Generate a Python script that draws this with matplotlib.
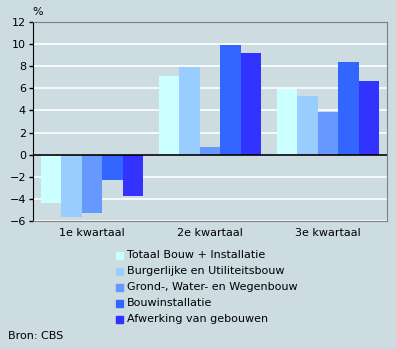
import numpy as np
import matplotlib.pyplot as plt
from matplotlib.patches import Rectangle

quarters = ["1e kwartaal", "2e kwartaal", "3e kwartaal"]
series = [
    "Totaal Bouw + Installatie",
    "Burgerlijke en Utiliteitsbouw",
    "Grond-, Water- en Wegenbouw",
    "Bouwinstallatie",
    "Afwerking van gebouwen",
]
totaal = [-4.4, 7.1, 5.9]
burgerlijk = [-5.6, 7.9, 5.3]
grond = [-5.3, 0.7, 3.9]
installatie = [-2.3, 9.9, 8.4]
afwerking = [-3.7, 9.2, 6.7]
values = [totaal, burgerlijk, grond, installatie, afwerking]
colors = ["#ccffff", "#99ccff", "#6699ff", "#3366ff", "#3333ff"]

bg = "#cddce1"
W, H = 396, 349
fig = plt.figure(figsize=(W / 100, H / 100), dpi=100, facecolor=bg)
ax = fig.add_axes([33 / W, 1 - 221 / H, 354 / W, 199 / H], facecolor=bg)

x = np.arange(len(quarters))
width = 0.173
for i, (vals, col) in enumerate(zip(values, colors)):
    ax.bar(x + (i - 2) * width, vals, width, color=col, zorder=3, linewidth=0)

ax.set_xlim(-0.5, 2.5)
ax.set_ylim(-6, 12)
ax.set_yticks(np.arange(-6, 13, 2))
ax.set_xticks(x)
ax.set_xticklabels(quarters)
ax.grid(True, axis="y", color="white", linewidth=1.2, zorder=1)
ax.axhline(0, color="black", linewidth=1.2, zorder=4)

for side in ["top", "right", "bottom"]:
    ax.spines[side].set_color("#808080")
ax.spines["left"].set_color("black")
ax.tick_params(axis="y", length=3, width=1, labelsize=8, pad=2)
ax.tick_params(axis="x", length=0, labelsize=8, pad=5)

fig.text(32 / W, 1 - 12 / H, "%", fontsize=8, ha="left", va="center")

# legend drawn as squares with labels
for i, (name, col) in enumerate(zip(series, colors)):
    y = 1 - (255 + 16 * i) / H
    fig.patches.append(Rectangle((116 / W, y - 3.5 / H), 7 / W, 7 / H,
                                 transform=fig.transFigure, color=col))
    fig.text(127 / W, y, name, fontsize=8, ha="left", va="center")

fig.text(8 / W, 1 - 336 / H, "Bron: CBS", fontsize=8, ha="left", va="center")

fig.savefig("out.png", dpi=100, facecolor=bg)
